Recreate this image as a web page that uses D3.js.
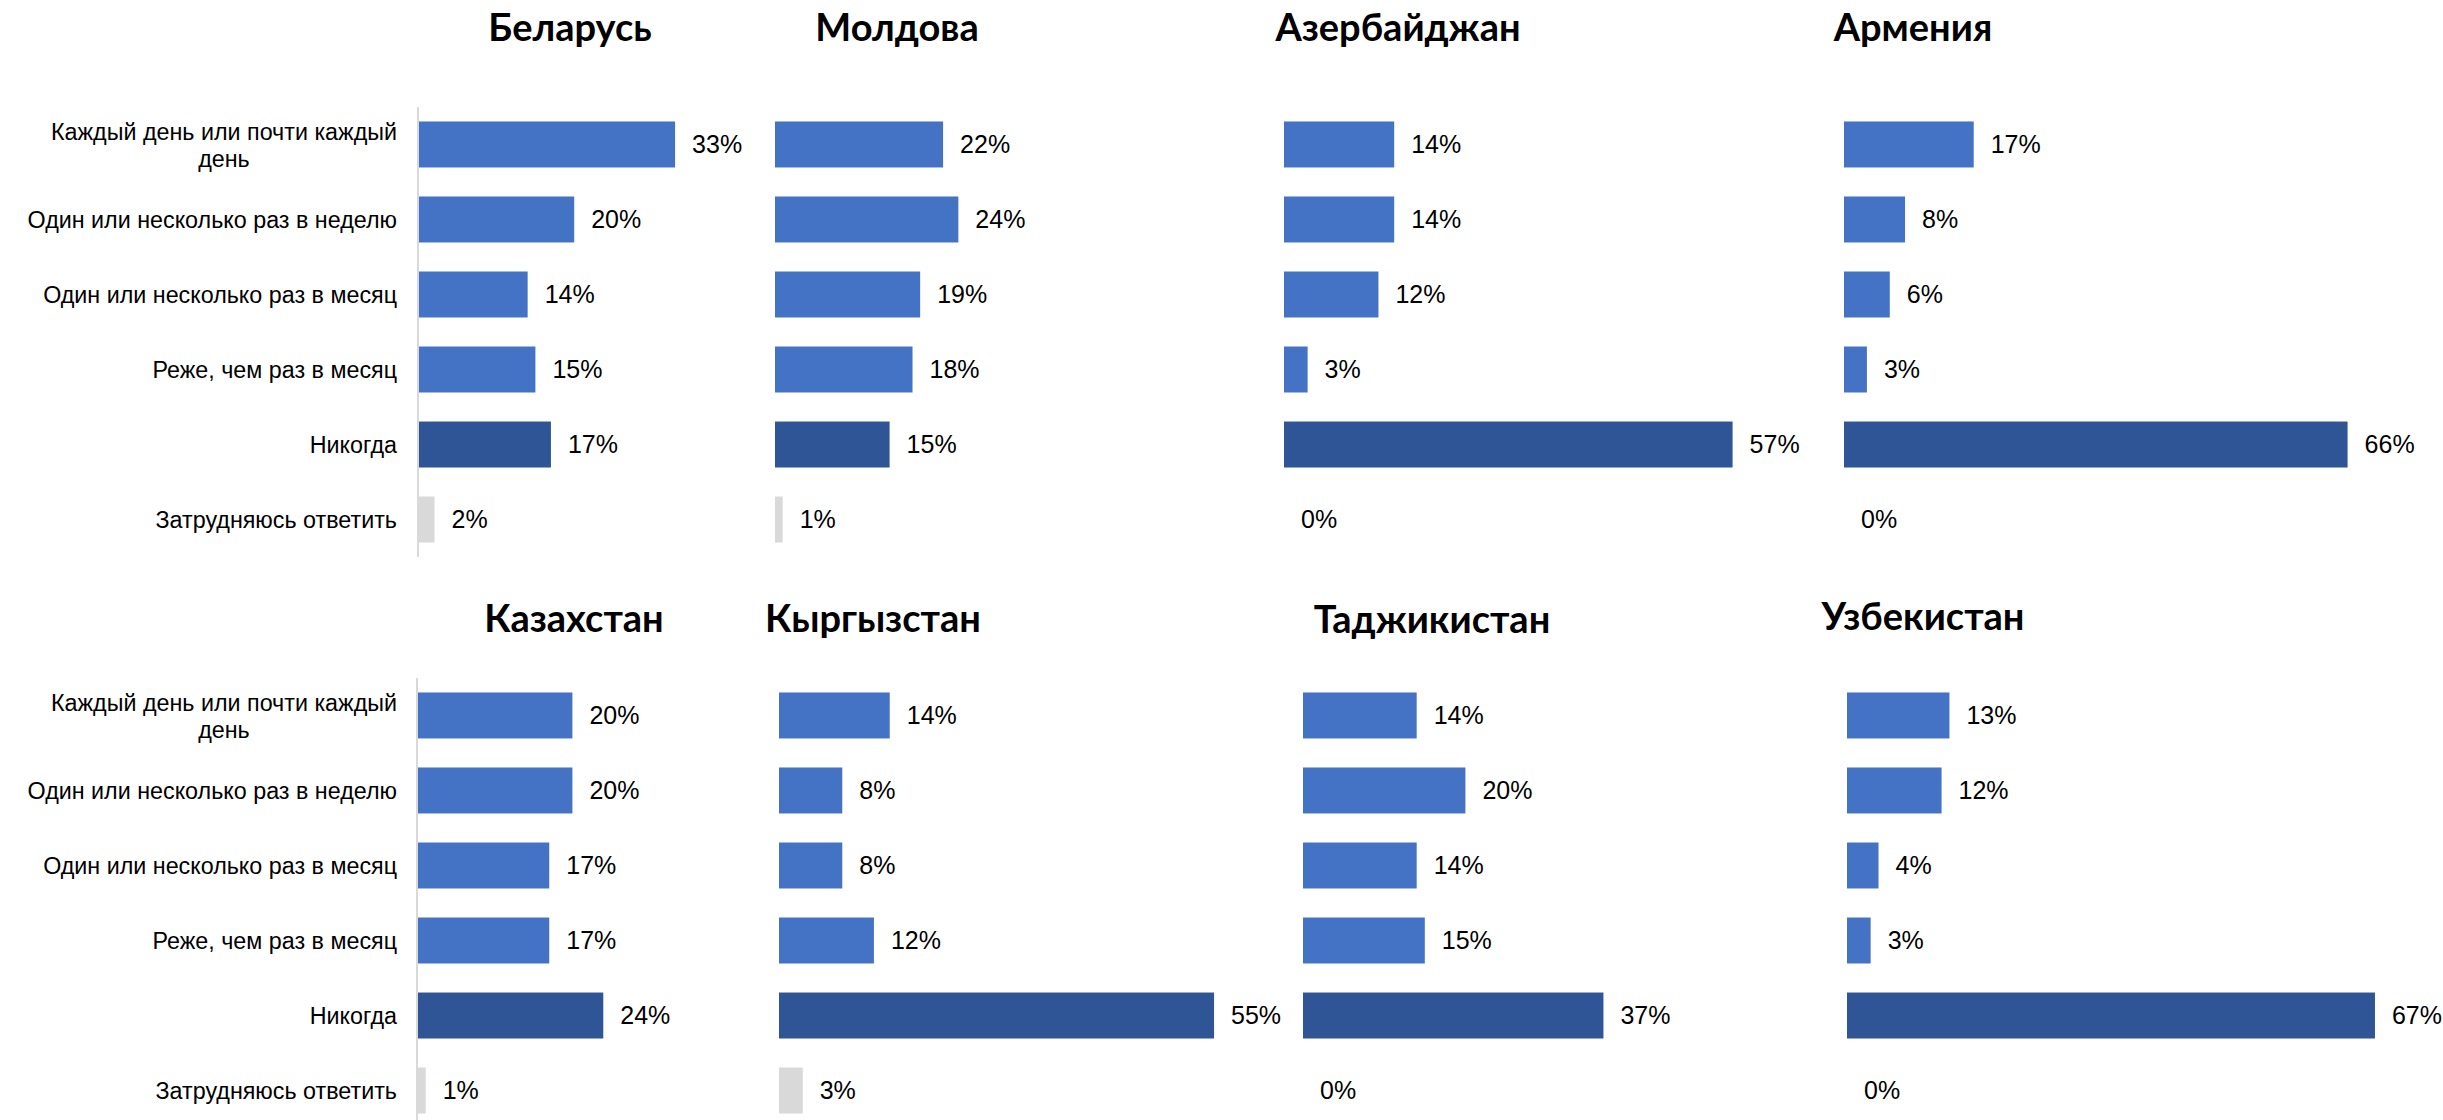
<!DOCTYPE html>
<html>
<head>
<meta charset="utf-8">
<script src="https://cdn.jsdelivr.net/npm/d3@7"></script>
<style>
  body { margin: 0; background: #fff; }
  svg { display: block; }
</style>
</head>
<body>
<div id="chart"></div>
<script>
var width = 2443;
var height = 1120;

// answer categories
var categories = [
    "Каждый день или почти каждый день",
    "Один или несколько раз в неделю",
    "Один или несколько раз в месяц",
    "Реже, чем раз в месяц",
    "Никогда",
    "Затрудняюсь ответить"
];

var countries = ["Беларусь", "Молдова", "Азербайджан", "Армения",
                 "Казахстан", "Кыргызстан", "Таджикистан", "Узбекистан"];

// percentages per country, same order as categories
var belarus    = [33, 20, 14, 15, 17, 2];
var moldova    = [22, 24, 19, 18, 15, 1];
var azerbaijan = [14, 14, 12, 3, 57, 0];
var armenia    = [17, 8, 6, 3, 66, 0];
var kazakhstan = [20, 20, 17, 17, 24, 1];
var kyrgyzstan = [14, 8, 8, 12, 55, 3];
var tajikistan = [14, 20, 14, 15, 37, 0];
var uzbekistan = [13, 12, 4, 3, 67, 0];

var values = [belarus, moldova, azerbaijan, armenia,
              kazakhstan, kyrgyzstan, tajikistan, uzbekistan];

// layout of the small multiples (x0 = bar start, pct = px per percent)
var layout = [
    {x0: 419,  pct: 7.76, row: 0, tx: 570,  ty: 41,  axis: true},
    {x0: 775,  pct: 7.64, row: 0, tx: 897,  ty: 41},
    {x0: 1284, pct: 7.87, row: 0, tx: 1398, ty: 41},
    {x0: 1844, pct: 7.63, row: 0, tx: 1913, ty: 41},
    {x0: 418,  pct: 7.72, row: 1, tx: 574,  ty: 632, axis: true},
    {x0: 779,  pct: 7.91, row: 1, tx: 873,  ty: 632},
    {x0: 1303, pct: 8.12, row: 1, tx: 1432, ty: 633},
    {x0: 1847, pct: 7.88, row: 1, tx: 1923, ty: 630}
];
var rowRange = [[107, 557], [678, 1128]];

var colors = ["#4472C4", "#4472C4", "#4472C4", "#4472C4", "#2F5597", "#D9D9D9"];

var svg = d3.select("#chart").append("svg")
    .attr("width", width)
    .attr("height", height);

var yScales = rowRange.map(function (r) {
    return d3.scaleBand()
        .domain(categories)
        .range(r)
        .paddingInner(0.387)
        .paddingOuter(0.193);
});

// category labels for each row
yScales.forEach(function (y, ri) {
    var g = svg.append("g").attr("class", "cats")
        .style("font-family", "Liberation Sans, Arial, sans-serif")
        .style("font-size", "23.3px")
        .style("fill", "#000");
    categories.forEach(function (c) {
        var cy = y(c) + y.bandwidth() / 2;
        if (c == categories[0]) {
            var t1 = g.append("text")
                .attr("x", 397).attr("y", cy - 13).attr("dy", "0.35em")
                .attr("text-anchor", "end")
                .text("Каждый день или почти каждый");
            var w = t1.node().getComputedTextLength();
            g.append("text")
                .attr("x", 397 - w / 2).attr("y", cy + 14).attr("dy", "0.35em")
                .attr("text-anchor", "middle")
                .text("день");
        } else {
            g.append("text")
                .attr("x", 397).attr("y", cy).attr("dy", "0.35em")
                .attr("text-anchor", "end")
                .text(c);
        }
    });
});

countries.forEach(function (name, i) {
    var L = layout[i];
    var y = yScales[L.row];
    var x = d3.scaleLinear().domain([0, 100]).range([L.x0, L.x0 + 100 * L.pct]);
    var data = values[i].map(function (v, k) { return {cat: categories[k], v: v, k: k}; });
    var g = svg.append("g");

    if (L.axis) {
        g.append("line")
            .attr("x1", L.x0 - 1).attr("x2", L.x0 - 1)
            .attr("y1", rowRange[L.row][0]).attr("y2", rowRange[L.row][1])
            .attr("stroke", "#D9D9D9").attr("stroke-width", 2);
    }

    g.selectAll("rect").data(data).enter().append("rect")
        .attr("x", x(0))
        .attr("y", function (d) { return y(d.cat); })
        .attr("width", function (d) { return x(d.v) - x(0); })
        .attr("height", y.bandwidth())
        .style("fill", function (d) { return colors[d.k]; });

    g.selectAll("text.val").data(data).enter().append("text")
        .attr("class", "val")
        .attr("x", function (d) { return x(d.v) + 17; })
        .attr("y", function (d) { return y(d.cat) + y.bandwidth() / 2; })
        .attr("dy", "0.35em")
        .style("font-family", "Liberation Sans, Arial, sans-serif")
        .style("font-size", "25px")
        .style("fill", "#000")
        .text(function (d) { return d.v + "%"; });

    svg.append("text")
        .attr("x", L.tx).attr("y", L.ty)
        .attr("text-anchor", "middle")
        .style("font-family", "Lato, sans-serif")
        .style("font-weight", "bold")
        .style("font-size", "38px")
        .style("fill", "#000")
        .text(name);
});
</script>
</body>
</html>
